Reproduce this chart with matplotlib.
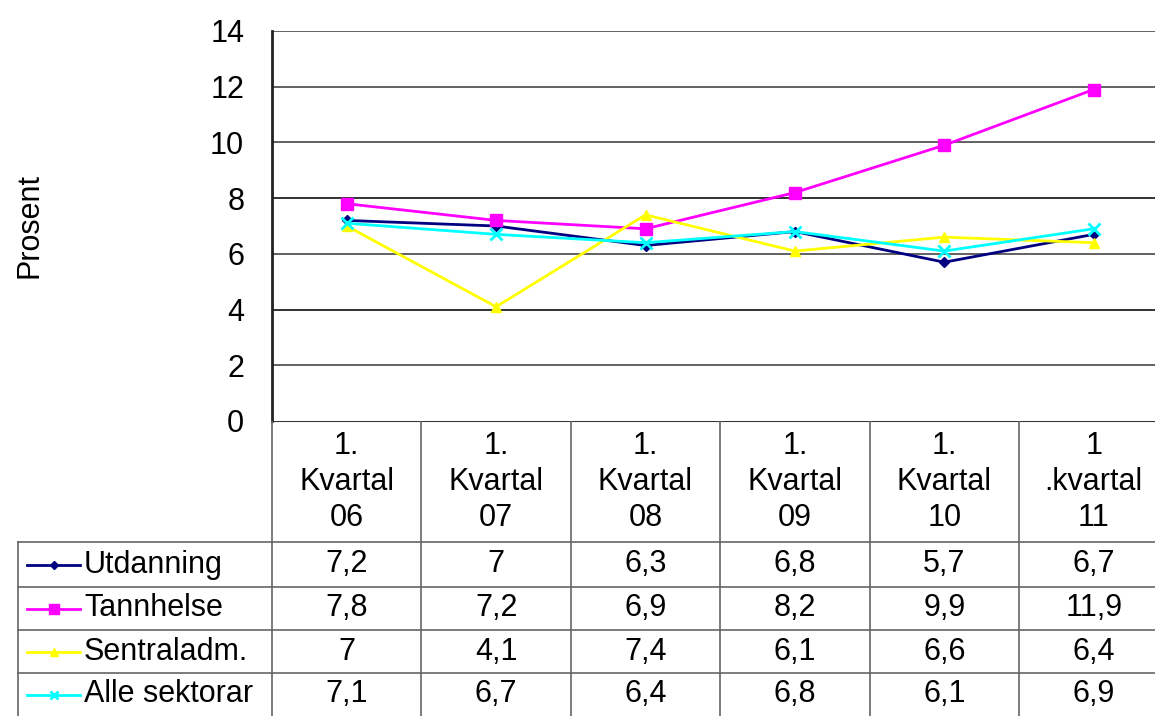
import matplotlib
matplotlib.use("Agg")
import matplotlib.pyplot as plt
from matplotlib.lines import Line2D

plt.rcParams['font.family'] = ['Liberation Sans', 'DejaVu Sans']

categories = ["1.\nKvartal\n06", "1.\nKvartal\n07", "1.\nKvartal\n08",
              "1.\nKvartal\n09", "1.\nKvartal\n10", "1\n.kvartal\n11"]
series_names = ["Utdanning", "Tannhelse", "Sentraladm.", "Alle sektorar"]
utdanning = [7.2, 7.0, 6.3, 6.8, 5.7, 6.7]
tannhelse = [7.8, 7.2, 6.9, 8.2, 9.9, 11.9]
sentraladm = [7.0, 4.1, 7.4, 6.1, 6.6, 6.4]
alle = [7.1, 6.7, 6.4, 6.8, 6.1, 6.9]
labels_table = [["7,2", "7", "6,3", "6,8", "5,7", "6,7"],
                ["7,8", "7,2", "6,9", "8,2", "9,9", "11,9"],
                ["7", "4,1", "7,4", "6,1", "6,6", "6,4"],
                ["7,1", "6,7", "6,4", "6,8", "6,1", "6,9"]]
yticks = [0, 2, 4, 6, 8, 10, 12, 14]

values = [utdanning, tannhelse, sentraladm, alle]
colors = ["#000080", "#FF00FF", "#FFFF00", "#00FFFF"]
markers = ["D", "s", "^", "x"]
msizes = [5, 9, 7, 8]

FS = 22
W, H = 1155, 716
fig = plt.figure(figsize=(W / 100, H / 100), dpi=100)

px0, px_top, px_bot = 272, 31, 421
colw = 149.4
xmax = (W - px0) / colw - 0.5

ax = fig.add_axes([px0 / W, 1 - px_bot / H, (W - px0) / W, (px_bot - px_top) / H])
ax.set_xlim(-0.5, xmax)
ax.set_ylim(0, 14)
for y in yticks[1:]:
    ax.axhline(y, color="#555555" if y not in (8, 4) else "#222222", lw=1.3, zorder=1)
x = list(range(len(categories)))
for v, c, m, ms in zip(values, colors, markers, msizes):
    ax.plot(x, v, color=c, marker=m, markersize=ms, lw=2, zorder=3,
            markeredgewidth=2 if m == "x" else 1)
ax.set_yticks(yticks)
ax.set_yticklabels([str(t) for t in yticks], fontsize=FS)
ax.tick_params(axis='y', length=0, pad=20)
ax.set_xticks([])
for s in ["top", "right", "bottom"]:
    ax.spines[s].set_visible(False)
ax.spines["left"].set_linewidth(2)
ax.spines["left"].set_color("#222222")
fig.text(30 / W, 1 - 226 / H, "Prosent", rotation=90, fontsize=FS,
         ha="center", va="center")

# table axes
tl = 17
tax = fig.add_axes([tl / W, 0, (W - tl) / W, (H - px_bot) / H])
xl = -0.5 - (px0 - tl) / colw
tax.set_xlim(xl, xmax)
tax.set_ylim(H - px_bot, 0)
tax.axis("off")
lc = "#666666"
row_b = [121, 166, 209, 252, 295]
# horizontal lines
tax.plot([-0.5, xmax], [0, 0], color="#333333", lw=1.5)
for yb in row_b[:-1]:
    tax.plot([xl, xmax], [yb, yb], color=lc, lw=1.2)
# vertical lines
for i in range(len(categories)):
    tax.plot([i - 0.5, i - 0.5], [0, 295], color=lc, lw=1.2)
tax.plot([xl + 0.005, xl + 0.005], [row_b[0], 295], color=lc, lw=1.2)
for i, cat in enumerate(categories):
    tax.text(i, 61, cat, ha="center", va="center", fontsize=FS, linespacing=1.25)
for r, (name, c, m, ms) in enumerate(zip(series_names, colors, markers, msizes)):
    yc = (row_b[r] + row_b[r + 1]) / 2
    lx0 = xl + 10 / colw
    lx1 = xl + 63 / colw
    tax.add_line(Line2D([lx0, lx1], [yc, yc], color=c, lw=2))
    tax.plot([(lx0 + lx1) / 2], [yc], marker=m, color=c, markersize=ms * 0.8,
             markeredgewidth=2 if m == "x" else 1)
    tax.text(xl + 67 / colw, yc, name, ha="left", va="center", fontsize=FS)
    for i, t in enumerate(labels_table[r]):
        tax.text(i, yc, t, ha="center", va="center", fontsize=FS)

fig.savefig("out.png", dpi=100)
